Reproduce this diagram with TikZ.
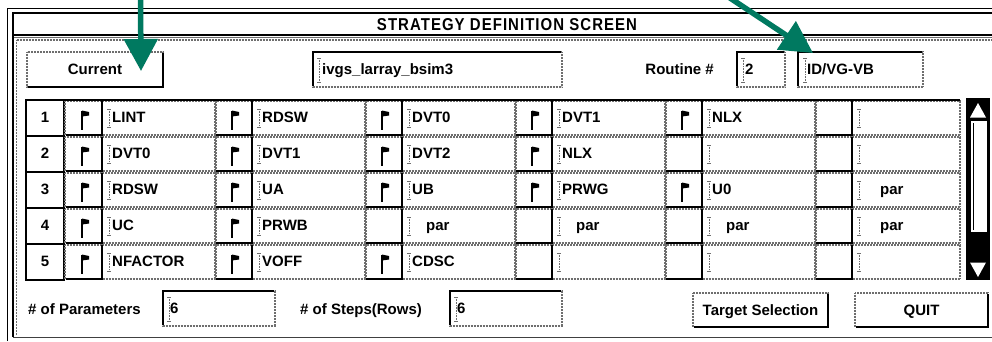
\documentclass[tikz,border=0pt]{standalone}
\usepackage{fontspec}
\setmainfont{Liberation Sans}
\usepackage{graphicx}
\usetikzlibrary{arrows.meta}
\definecolor{arrowgreen}{RGB}{0,121,96}
\definecolor{dotgray}{RGB}{110,110,110}
\tikzset{
  dotline/.style={draw=dotgray, line width=1.2pt, dash pattern=on 0.7pt off 0.8pt},
  blackedge/.style={draw=black, line width=2pt},
  sunkedge/.style={draw=black, line width=1.4pt},
  uitext/.style={font=\fontsize{15}{17}\selectfont\bfseries, inner sep=0pt, anchor=base west},
  uictext/.style={font=\fontsize{15}{17}\selectfont\bfseries, inner sep=0pt, anchor=base},
  flagpole/.style={draw=black, line width=1.3pt},
  beamline/.style={draw=dotgray, line width=0.9pt, dash pattern=on 0.8pt off 0.8pt},
  beamcap/.style={draw=dotgray, line width=0.7pt},
  greenarrow/.style={draw=arrowgreen, line width=5.5pt, -{Triangle[width=33pt,length=32pt]}},
}
\newcommand\uiraised[4]{%
  \fill[white] (#1,#2) rectangle (#3,#4);
  \draw[dotline] (#1,#2) rectangle (#3,#4);
  \draw[blackedge] (#1+1,#4) -- (#3,#4) -- (#3,#2+1);
}
\newcommand\uisunken[4]{%
  \fill[white] (#1,#2) rectangle (#3,#4);
  \draw[dotline] (#1,#2) rectangle (#3,#4);
  \draw[sunkedge] (#1,#4-1) -- (#1,#2) -- (#3-1,#2);
}
\newcommand\uibeam[3]{%
  \draw[beamline] (#1,#2) -- (#1,#3);
  \draw[beamcap] (#1-1.6,#2) -- (#1+1.6,#2) (#1-1.6,#3) -- (#1+1.6,#3);
}
\newcommand\uiflag[2]{%
  \draw[flagpole] (#1,#2+11) -- (#1,#2+30);
  \fill[black] (#1,#2+10.5) -- (#1+7,#2+12) -- (#1+7,#2+15.5) -- (#1,#2+16.5) -- cycle;
}
\newcommand\uicell[5]{%
  \pgfmathsetmacro\uicx{65+150*#1}%
  \pgfmathsetmacro\uicy{100+36*#2}%
  \pgfmathsetmacro\uitx{\uicx+37}%
  \pgfmathsetmacro\uite{(#1==5)*960+(#1<5)*(\uicx+151)}%
  \draw[dotline] (\uitx,\uicy+1) rectangle (\uite,\uicy+35);
  \draw[dotline] (\uicx,\uicy+1) rectangle (\uitx,\uicy+35);
  \draw[blackedge] (\uicx+1,\uicy+35) -- (\uitx,\uicy+35) -- (\uitx,\uicy+1);
  \uibeam{\uitx+7}{\uicy+9}{\uicy+27}
  \ifnum#3=1 \uiflag{\uicx+17}{\uicy}\fi
  \node[uitext] (c#2x#1) at (\uitx+#4,\uicy+22.5) {#5};
}
\begin{document}
\begin{tikzpicture}[x=1pt,y=-1pt]
\useasboundingbox (0,0) rectangle (992,341);
\fill[white] (0,0) rectangle (992,341);
% window frame
\draw[black, line width=1pt] (7.5,341) -- (7.5,8.5) -- (992,8.5);
\draw[black, line width=2.2pt] (13,337) -- (13,13) -- (992,13);
\draw[black, line width=2.2pt] (14,35) -- (992,35);
\draw[dotgray, line width=0.8pt] (14,37.5) -- (992,37.5);
\draw[dotline] (16.5,335) -- (16.5,40) -- (992,40);
\draw[black!75, line width=1.6pt] (13,337.5) -- (992,337.5);
\node[inner sep=0pt, anchor=base] (title) at (507,30)
  {\resizebox{260pt}{12pt}{\addfontfeature{LetterSpace=7}\bfseries STRATEGY DEFINITION SCREEN}};
% top row widgets
\uiraised{27}{52}{163}{87}
\node[uictext] (current) at (95,74) {Current};
\uisunken{313}{52}{562}{87}
\uibeam{319}{58}{82}
\node[uitext] (strat) at (322,74) {ivgs\_larray\_bsim3};
\node[uitext, anchor=base east] (routine) at (714,74) {Routine \#};
\uisunken{737}{52}{785}{87}
\uibeam{743}{58}{82}
\node[uitext] (rnum) at (745,74) {2};
\uisunken{798}{52}{923}{87}
\uibeam{805}{58}{82}
\node[uitext] (rname) at (807,74) {ID/VG-VB};
% table
\foreach \n in {1,...,5} {
  \pgfmathsetmacro\uicy{100+36*(\n-1)}
  \draw[black, line width=1.5pt] (26,\uicy) rectangle (64,\uicy+36);
  \node[uictext] (num\n) at (45,\uicy+22.5) {\n};
}
\uicell{0}{0}{1}{10}{LINT}
\uicell{1}{0}{1}{10}{RDSW}
\uicell{2}{0}{1}{10}{DVT0}
\uicell{3}{0}{1}{10}{DVT1}
\uicell{4}{0}{1}{10}{NLX}
\uicell{5}{0}{0}{10}{}
\uicell{0}{1}{1}{10}{DVT0}
\uicell{1}{1}{1}{10}{DVT1}
\uicell{2}{1}{1}{10}{DVT2}
\uicell{3}{1}{1}{10}{NLX}
\uicell{4}{1}{0}{10}{}
\uicell{5}{1}{0}{10}{}
\uicell{0}{2}{1}{10}{RDSW}
\uicell{1}{2}{1}{10}{UA}
\uicell{2}{2}{1}{10}{UB}
\uicell{3}{2}{1}{10}{PRWG}
\uicell{4}{2}{1}{10}{U0}
\uicell{5}{2}{0}{28}{par}
\uicell{0}{3}{1}{10}{UC}
\uicell{1}{3}{1}{10}{PRWB}
\uicell{2}{3}{0}{24}{par}
\uicell{3}{3}{0}{24}{par}
\uicell{4}{3}{0}{24}{par}
\uicell{5}{3}{0}{28}{par}
\uicell{0}{4}{1}{10}{NFACTOR}
\uicell{1}{4}{1}{10}{VOFF}
\uicell{2}{4}{1}{10}{CDSC}
\uicell{3}{4}{0}{10}{}
\uicell{4}{4}{0}{10}{}
\uicell{5}{4}{0}{10}{}
\draw[black, line width=2.5pt] (26,100) -- (960,100);
% scrollbar
\fill[black] (966,98) rectangle (990,280);
\fill[white] (971,121) rectangle (987,232);
\draw[black, line width=0.8pt] (973.5,123) -- (973.5,230);
\fill[white] (970,117.5) -- (986,117.5) -- (978,103) -- cycle;
\fill[white] (970,262.5) -- (986,262.5) -- (978,277) -- cycle;
% bottom row
\node[uitext] (npar) at (28,314) {\# of Parameters};
\uisunken{163}{291}{275}{326}
\uibeam{169}{297}{321}
\node[uitext] (nparv) at (170,313.5) {6};
\node[uitext] (nstep) at (300,314) {\# of Steps(Rows)};
\uisunken{450}{291}{562}{326}
\uibeam{456}{297}{321}
\node[uitext] (nstepv) at (457,313.5) {6};
\uiraised{693}{293}{828}{327}
\node[uictext] (target) at (760.5,315) {Target Selection};
\uiraised{855}{293}{988}{327}
\node[uictext] (quit) at (921.5,315) {QUIT};
% green arrows
\coordinate (a1s) at (140.5,-4);
\coordinate (a1e) at (141,71);
\draw[greenarrow] (a1s) -- (a1e);
\coordinate (a2s) at (727,-4);
\coordinate (a2e) at (813,53);
\draw[greenarrow] (a2s) -- (a2e);
\end{tikzpicture}
\end{document}
